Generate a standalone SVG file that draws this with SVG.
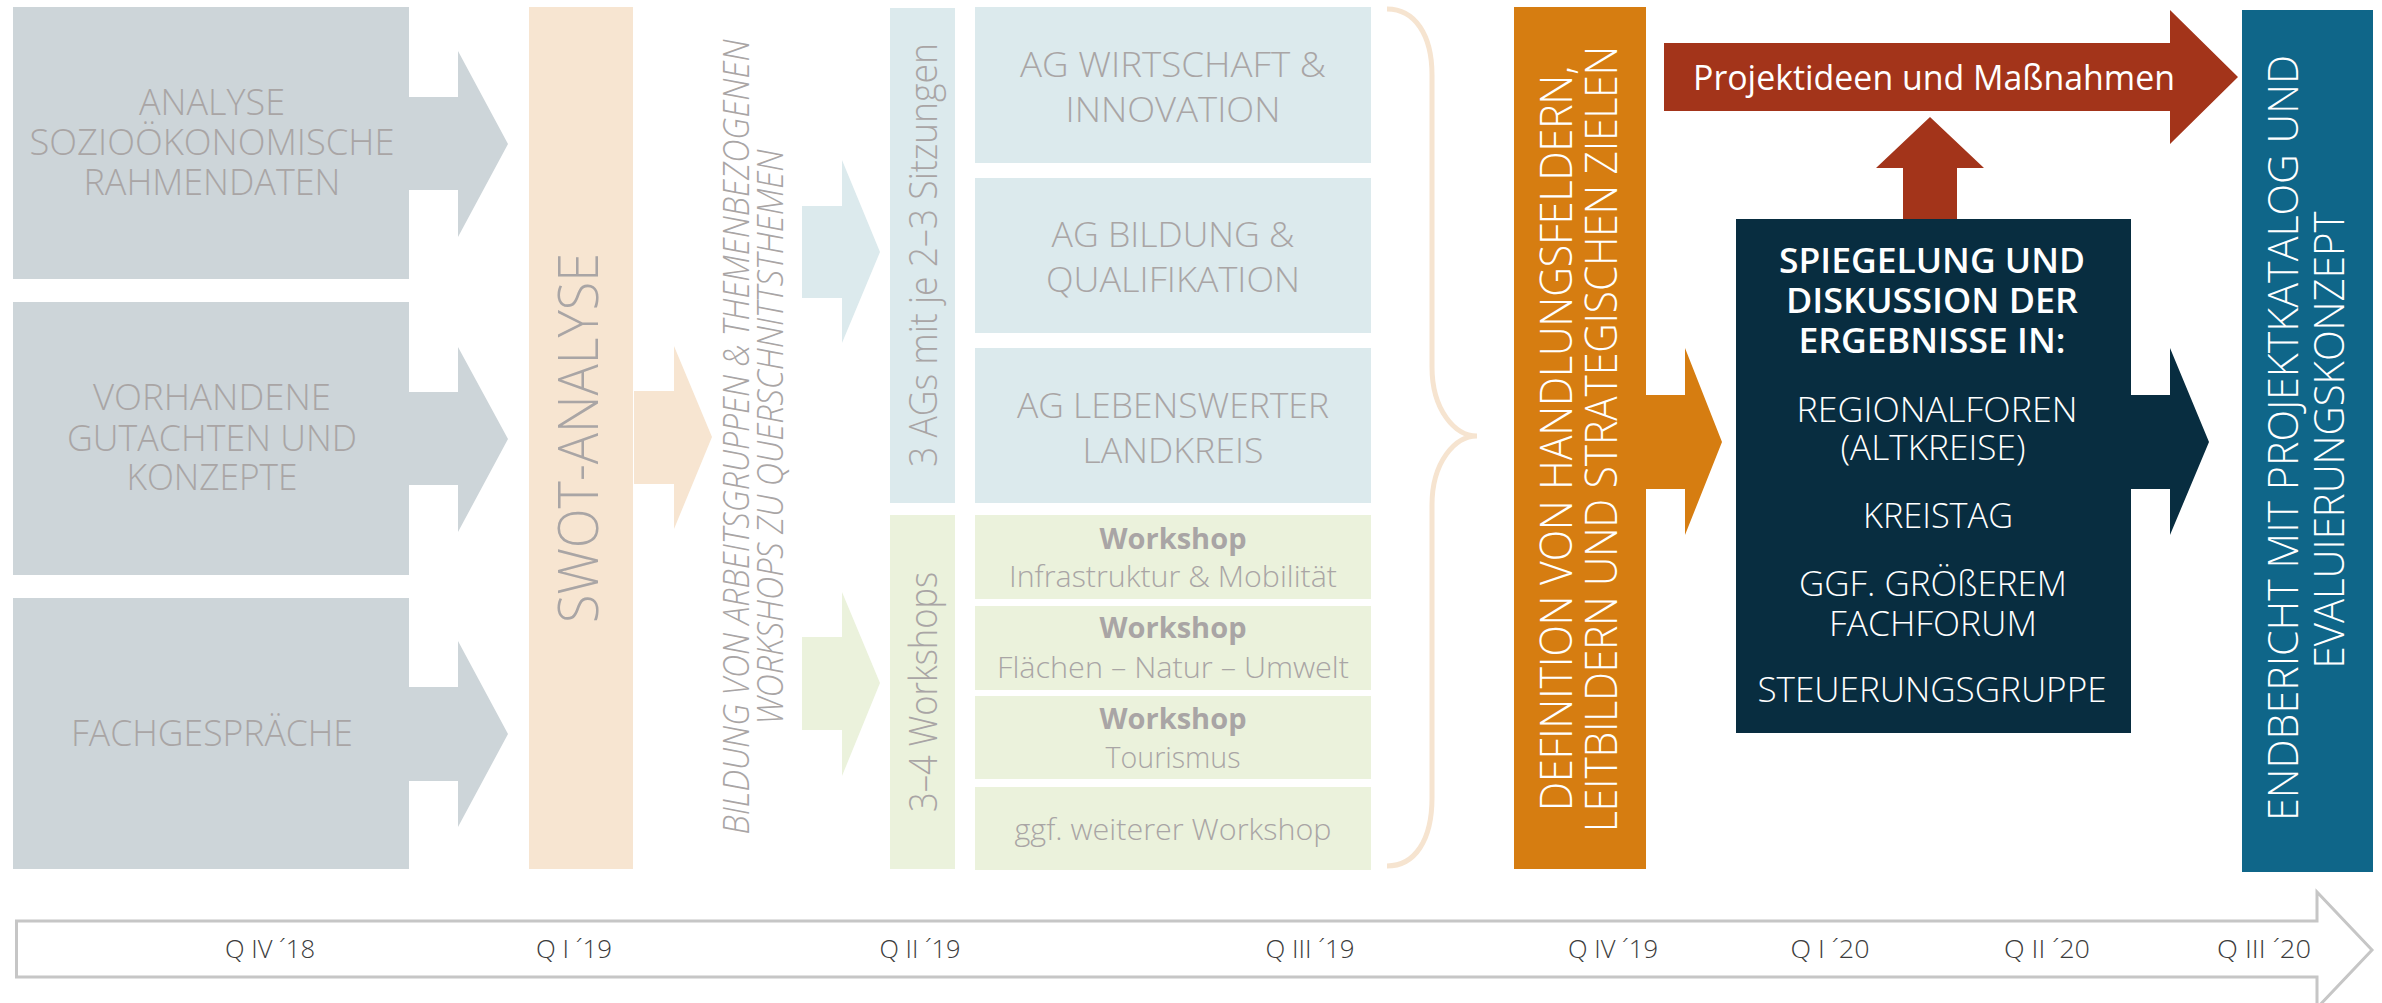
<svg xmlns="http://www.w3.org/2000/svg" width="2382" height="1003" viewBox="0 0 2382 1003">
<style>
text{font-family:"Open Sans","Liberation Sans",sans-serif;font-weight:300;text-anchor:middle}
.g{fill:#A9A5A5}
.w{fill:#FFFFFF}
.tl{fill:#3C3C3C;font-size:26px}
.b{font-weight:700}
.s{font-weight:600}
</style>
<rect width="2382" height="1003" fill="#FFFFFF"/>
<g id="connectors">
  <polygon fill="#CDD5D9" points="409,97 458,97 458,51 508,144 458,237 458,190 409,190"/>
  <polygon fill="#CDD5D9" points="409,392 458,392 458,347 508,439 458,532 458,485 409,485"/>
  <polygon fill="#CDD5D9" points="409,687 458,687 458,641 508,734 458,827 458,781 409,781"/>
  <polygon fill="#F7E5D1" points="634,391 674,391 674,346 712,437 674,529 674,484 634,484"/>
  <polygon fill="#DCEAED" points="802,206 842,206 842,160 880,252 842,343 842,298 802,298"/>
  <polygon fill="#EBF2DC" points="802,637 842,637 842,592 880,683 842,776 842,730 802,730"/>
  <path d="M1387,9 C1415,9 1432,35 1432,75 V367 C1432,410 1455,436 1477,436 C1455,436 1432,462 1432,505 V798 C1432,840 1415,866 1387,866" fill="none" stroke="#F6E4D0" stroke-width="5"/>
  <polygon fill="#D67D11" points="1646,395 1685,395 1685,348 1722,442 1685,535 1685,489 1646,489"/>
  <polygon fill="#082D40" points="2131,395 2170,395 2170,348 2209,442 2170,535 2170,489 2131,489"/>
  <polygon fill="#A3341A" points="1903,219 1903,168 1876,168 1930,117 1984,168 1957,168 1957,219"/>
  <polygon fill="#A3341A" points="1664,43 2170,43 2170,10 2238,77 2170,144 2170,111 1664,111"/>
</g>
<g id="node-analyse">
  <rect x="13" y="7" width="396" height="272" fill="#CDD5D9"/>
  <text class="g" font-size="37" x="212" y="115" textLength="146" lengthAdjust="spacingAndGlyphs">ANALYSE</text>
  <text class="g" font-size="37" x="212" y="155" textLength="365" lengthAdjust="spacingAndGlyphs">SOZIOÖKONOMISCHE</text>
  <text class="g" font-size="37" x="212" y="195" textLength="257" lengthAdjust="spacingAndGlyphs">RAHMENDATEN</text>
</g>
<g id="node-gutachten">
  <rect x="13" y="302" width="396" height="273" fill="#CDD5D9"/>
  <text class="g" font-size="37" x="212" y="410" textLength="238" lengthAdjust="spacingAndGlyphs">VORHANDENE</text>
  <text class="g" font-size="37" x="212" y="451" textLength="290" lengthAdjust="spacingAndGlyphs">GUTACHTEN UND</text>
  <text class="g" font-size="37" x="212" y="490" textLength="171" lengthAdjust="spacingAndGlyphs">KONZEPTE</text>
</g>
<g id="node-fachgespraeche">
  <rect x="13" y="598" width="396" height="271" fill="#CDD5D9"/>
  <text class="g" font-size="37" x="212" y="746" textLength="282" lengthAdjust="spacingAndGlyphs">FACHGESPRÄCHE</text>
</g>
<g id="node-swot">
  <rect x="529" y="7" width="104" height="862" fill="#F7E5D1"/>
  <text class="g" font-size="56" transform="translate(598,438) rotate(-90)" textLength="370" lengthAdjust="spacingAndGlyphs">SWOT-ANALYSE</text>
</g>
<g id="node-bildung">
  <text class="g" font-size="36" font-style="italic" transform="translate(749,437) rotate(-90)" textLength="795" lengthAdjust="spacingAndGlyphs">BILDUNG VON ARBEITSGRUPPEN &amp; THEMENBEZOGENEN</text>
  <text class="g" font-size="36" font-style="italic" transform="translate(783,437) rotate(-90)" textLength="575" lengthAdjust="spacingAndGlyphs">WORKSHOPS ZU QUERSCHNITTSTHEMEN</text>
</g>
<g id="node-ags">
  <rect x="890" y="8" width="65" height="495" fill="#DCEAED"/>
  <text class="g" font-size="38" transform="translate(937,255) rotate(-90)" textLength="424" lengthAdjust="spacingAndGlyphs">3 AGs mit je 2–3 Sitzungen</text>
</g>
<g id="node-ag-wirtschaft">
  <rect x="975" y="7" width="396" height="156" fill="#DCEAED"/>
  <text class="g" font-size="35" x="1173" y="77" textLength="306" lengthAdjust="spacingAndGlyphs">AG WIRTSCHAFT &amp;</text>
  <text class="g" font-size="35" x="1173" y="122" textLength="215" lengthAdjust="spacingAndGlyphs">INNOVATION</text>
</g>
<g id="node-ag-bildung">
  <rect x="975" y="178" width="396" height="155" fill="#DCEAED"/>
  <text class="g" font-size="35" x="1173" y="247" textLength="243" lengthAdjust="spacingAndGlyphs">AG BILDUNG &amp;</text>
  <text class="g" font-size="35" x="1173" y="292" textLength="254" lengthAdjust="spacingAndGlyphs">QUALIFIKATION</text>
</g>
<g id="node-ag-lebenswert">
  <rect x="975" y="348" width="396" height="155" fill="#DCEAED"/>
  <text class="g" font-size="35" x="1173" y="418" textLength="312" lengthAdjust="spacingAndGlyphs">AG LEBENSWERTER</text>
  <text class="g" font-size="35" x="1173" y="463" textLength="181" lengthAdjust="spacingAndGlyphs">LANDKREIS</text>
</g>
<g id="node-workshops">
  <rect x="890" y="515" width="65" height="354" fill="#EBF2DC"/>
  <text class="g" font-size="38" transform="translate(937,692) rotate(-90)" textLength="240" lengthAdjust="spacingAndGlyphs">3–4 Workshops</text>
</g>
<g id="node-ws-infra">
  <rect x="975" y="515" width="396" height="84" fill="#EBF2DC"/>
  <text class="g b" font-size="29" x="1173" y="549" textLength="147" lengthAdjust="spacingAndGlyphs">Workshop</text>
  <text class="g" font-size="30" x="1173" y="587" textLength="328" lengthAdjust="spacingAndGlyphs">Infrastruktur &amp; Mobilität</text>
</g>
<g id="node-ws-flaechen">
  <rect x="975" y="606" width="396" height="84" fill="#EBF2DC"/>
  <text class="g b" font-size="29" x="1173" y="638" textLength="147" lengthAdjust="spacingAndGlyphs">Workshop</text>
  <text class="g" font-size="30" x="1173" y="678" textLength="352" lengthAdjust="spacingAndGlyphs">Flächen – Natur – Umwelt</text>
</g>
<g id="node-ws-tourismus">
  <rect x="975" y="696" width="396" height="83" fill="#EBF2DC"/>
  <text class="g b" font-size="29" x="1173" y="729" textLength="147" lengthAdjust="spacingAndGlyphs">Workshop</text>
  <text class="g" font-size="30" x="1173" y="768" textLength="135" lengthAdjust="spacingAndGlyphs">Tourismus</text>
</g>
<g id="node-ws-weiterer">
  <rect x="975" y="787" width="396" height="83" fill="#EBF2DC"/>
  <text class="g" font-size="30" x="1173" y="840" textLength="317" lengthAdjust="spacingAndGlyphs">ggf. weiterer Workshop</text>
</g>
<g id="node-definition">
  <rect x="1514" y="7" width="132" height="862" fill="#D67D11"/>
  <text class="w" font-size="44" transform="translate(1572,438.5) rotate(-90)" textLength="745" lengthAdjust="spacingAndGlyphs">DEFINITION VON HANDLUNGSFELDERN,</text>
  <text class="w" font-size="44" transform="translate(1617,439) rotate(-90)" textLength="786" lengthAdjust="spacingAndGlyphs">LEITBILDERN UND STRATEGISCHEN ZIELEN</text>
</g>
<g id="node-projektideen">
  <text class="w" font-size="35" x="1934" y="90" textLength="482" lengthAdjust="spacingAndGlyphs" style="font-weight:400">Projektideen und Maßnahmen</text>
</g>
<g id="node-spiegelung">
  <rect x="1736" y="219" width="395" height="514" fill="#082D40"/>
  <text class="w s" font-size="35" x="1932" y="273" textLength="306" lengthAdjust="spacingAndGlyphs">SPIEGELUNG UND</text>
  <text class="w s" font-size="35" x="1932" y="313" textLength="292" lengthAdjust="spacingAndGlyphs">DISKUSSION DER</text>
  <text class="w s" font-size="35" x="1932" y="353" textLength="267" lengthAdjust="spacingAndGlyphs">ERGEBNISSE IN:</text>
  <text class="w" font-size="35" x="1937" y="422" textLength="281" lengthAdjust="spacingAndGlyphs">REGIONALFOREN</text>
  <text class="w" font-size="35" x="1933" y="460" textLength="185" lengthAdjust="spacingAndGlyphs">(ALTKREISE)</text>
  <text class="w" font-size="35" x="1938" y="528" textLength="150" lengthAdjust="spacingAndGlyphs">KREISTAG</text>
  <text class="w" font-size="35" x="1933" y="596" textLength="268" lengthAdjust="spacingAndGlyphs">GGF. GRÖßEREM</text>
  <text class="w" font-size="35" x="1933" y="636" textLength="208" lengthAdjust="spacingAndGlyphs">FACHFORUM</text>
  <text class="w" font-size="35" x="1932" y="702" textLength="349" lengthAdjust="spacingAndGlyphs">STEUERUNGSGRUPPE</text>
</g>
<g id="node-endbericht">
  <rect x="2242" y="10" width="131" height="862" fill="#0F6689"/>
  <text class="w" font-size="43" transform="translate(2298,438) rotate(-90)" textLength="766" lengthAdjust="spacingAndGlyphs">ENDBERICHT MIT PROJEKTKATALOG UND</text>
  <text class="w" font-size="43" transform="translate(2344,440) rotate(-90)" textLength="457" lengthAdjust="spacingAndGlyphs">EVALUIERUNGSKONZEPT</text>
</g>
<g id="timeline">
  <path d="M16.5,921 H2317 V892 L2372,950 L2317,1008 V977 H16.5 Z" fill="#FFFFFF" stroke="#C6C6C6" stroke-width="3"/>
  <text class="tl" x="270" y="958" textLength="90" lengthAdjust="spacingAndGlyphs">Q IV ´18</text>
  <text class="tl" x="574" y="958" textLength="76" lengthAdjust="spacingAndGlyphs">Q I ´19</text>
  <text class="tl" x="920" y="958" textLength="81" lengthAdjust="spacingAndGlyphs">Q II ´19</text>
  <text class="tl" x="1310" y="958" textLength="89" lengthAdjust="spacingAndGlyphs">Q III ´19</text>
  <text class="tl" x="1613" y="958" textLength="90" lengthAdjust="spacingAndGlyphs">Q IV ´19</text>
  <text class="tl" x="1830" y="958" textLength="79" lengthAdjust="spacingAndGlyphs">Q I ´20</text>
  <text class="tl" x="2047" y="958" textLength="86" lengthAdjust="spacingAndGlyphs">Q II ´20</text>
  <text class="tl" x="2264" y="958" textLength="94" lengthAdjust="spacingAndGlyphs">Q III ´20</text>
</g>
</svg>
